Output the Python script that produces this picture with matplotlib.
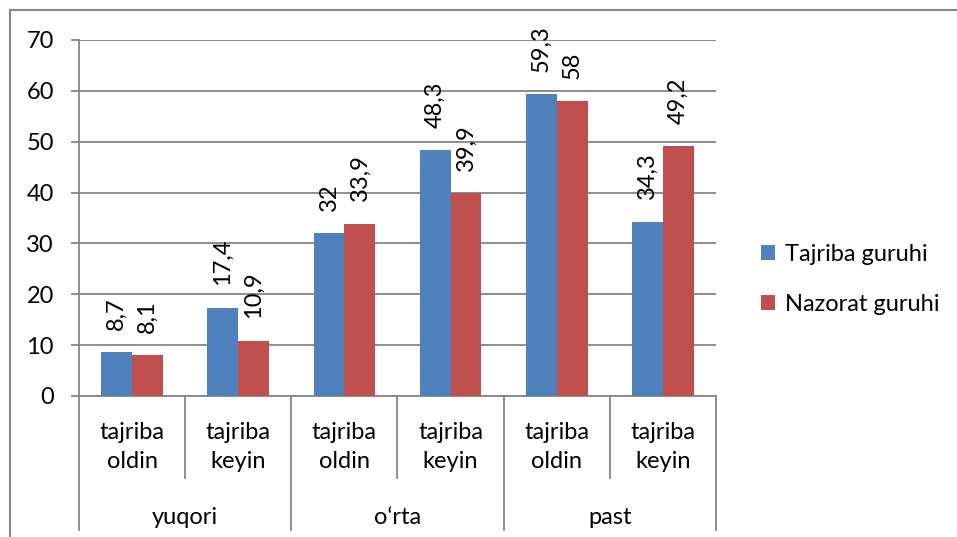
import numpy as np
import matplotlib.pyplot as plt
from matplotlib.patches import Rectangle

groups = ['yuqori', 'o‘rta', 'past']
stages = ['tajriba\noldin', 'tajriba\nkeyin']
series = ['Tajriba guruhi', 'Nazorat guruhi']
tajriba = [8.7, 17.4, 32, 48.3, 59.3, 34.3]
nazorat = [8.1, 10.9, 33.9, 39.9, 58, 49.2]
colors = ['#4F81BD', '#C0504D']
grey = '#868686'

plt.rcParams['font.family'] = ['Lato', 'DejaVu Sans']
fs = 17

W, H = 957, 537
fig = plt.figure(figsize=(W / 100, H / 100), dpi=100)
fig.patches.append(Rectangle((10 / W, -0.1), 1.1, (H - 10) / H + 0.1,
                             transform=fig.transFigure, fill=False,
                             edgecolor=grey, lw=1.5))

x0, x1, yt, yb = 79, 716, 40, 396
ax = fig.add_axes([x0 / W, 1 - yb / H, (x1 - x0) / W, (yb - yt) / H])

n = len(tajriba)
x = np.arange(n)
bw = 0.29
for vals, c, lab, off in [(tajriba, colors[0], series[0], -bw / 2),
                          (nazorat, colors[1], series[1], bw / 2)]:
    bars = ax.bar(x + off, vals, bw, color=c, label=lab, zorder=3)
    for b, v in zip(bars, vals):
        ax.annotate(str(v).replace('.', ','),
                    (b.get_x() + b.get_width() / 2, b.get_height()),
                    xytext=(0, 16), textcoords='offset points',
                    rotation=90, ha='center', va='bottom', fontsize=fs)

ax.set_xlim(-0.5, n - 0.5)
ax.set_ylim(0, 70)
ax.set_yticks(range(0, 71, 10))
ax.yaxis.grid(True, color=grey, lw=1.3)
ax.set_axisbelow(True)
ax.tick_params(axis='y', length=6, color=grey, width=1.3, labelsize=fs, pad=12)
ax.set_xticks([])
for s in ['top', 'right']:
    ax.spines[s].set_visible(False)
for s in ['left', 'bottom']:
    ax.spines[s].set_color(grey)
    ax.spines[s].set_linewidth(1.3)

# multi-level category axis
tr = ax.get_xaxis_transform()
px = 1 / (yb - yt)
for i in range(n + 1):
    low = -134 * px if i % 2 == 0 else -82 * px
    ax.plot([i - 0.5, i - 0.5], [0, low], color=grey, lw=1.3,
            transform=tr, clip_on=False)
for i in range(n):
    ax.text(i, -51 * px, stages[i % 2], transform=tr, ha='center',
            va='center', fontsize=fs, linespacing=1.42)
for g, name in enumerate(groups):
    ax.text(2 * g + 0.5, -121 * px, name, transform=tr, ha='center',
            va='center', fontsize=fs)

fig.legend(loc='upper left', bbox_to_anchor=(740 / W, 1 - 223 / H),
           frameon=False, fontsize=fs, handlelength=0.6, handleheight=0.6,
           handletextpad=0.4, labelspacing=1.2)

fig.savefig('out.png', dpi=100)
